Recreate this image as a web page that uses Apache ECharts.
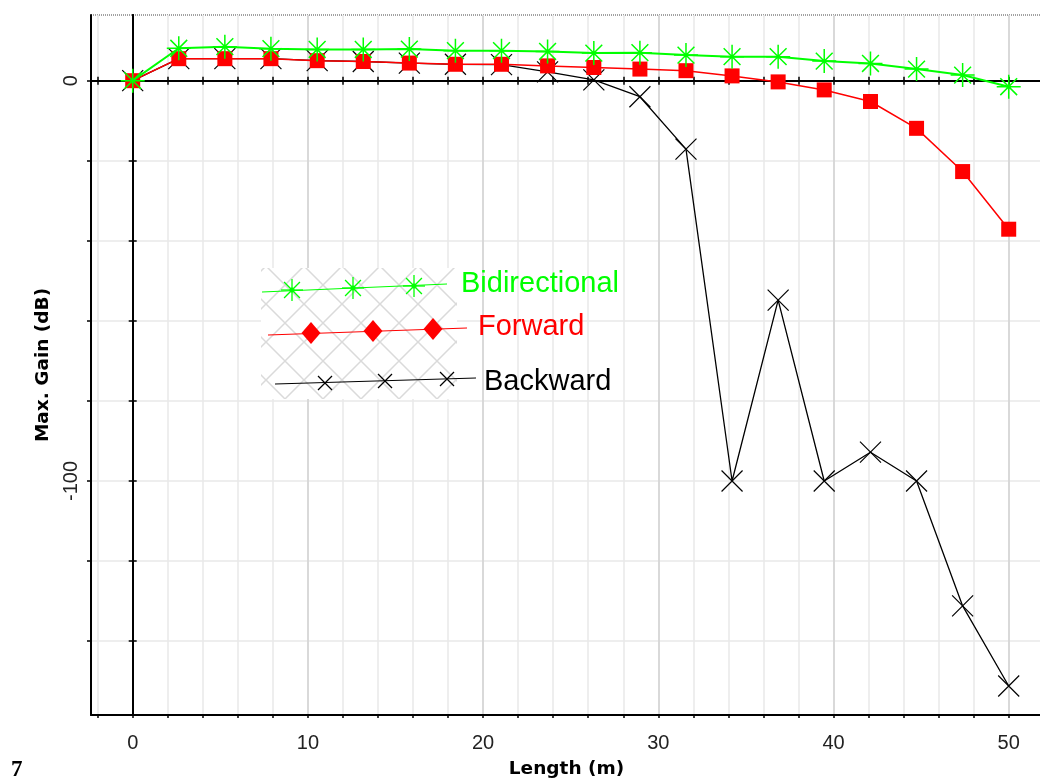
<!DOCTYPE html>
<html>
<head>
<meta charset="utf-8">
<script src="https://cdn.jsdelivr.net/npm/echarts@6/dist/echarts.min.js"></script>
<style>
html,body{margin:0;padding:0;background:#fff;}
#chart{width:1040px;height:780px;}
</style>
</head>
<body>
<div id="chart"></div>
<script>
// ---- data ----
const lengthM = [0, 2.63, 5.26, 7.89, 10.53, 13.16, 15.79, 18.42, 21.05, 23.68, 26.32, 28.95, 31.58, 34.21, 36.84, 39.47, 42.11, 44.74, 47.37, 50];
const bidirectional = [0, 8.1, 8.5, 8.0, 7.8, 7.8, 7.9, 7.5, 7.5, 7.3, 6.9, 7.0, 6.4, 6.0, 6.0, 4.9, 4.3, 2.9, 1.4, -1.5];
const forward = [0, 5.5, 5.5, 5.5, 5.0, 4.8, 4.4, 4.1, 4.1, 3.7, 3.3, 2.9, 2.5, 1.2, -0.3, -2.3, -5.2, -11.9, -22.7, -37.1];
const backward = [0, 5.5, 5.5, 5.5, 5.0, 4.8, 4.4, 4.1, 4.0, 2.2, 0.2, -4.0, -17.1, -100, -54.8, -100, -92.8, -100, -131.2, -151.2];
const seriesNames = ['Bidirectional', 'Forward', 'Backward'];
const xTickValues = [-2, 0, 2, 4, 6, 8, 10, 12, 14, 16, 18, 20, 22, 24, 26, 28, 30, 32, 34, 36, 38, 40, 42, 44, 46, 48, 50];
const xDecadeValues = [0, 10, 20, 30, 40, 50];
const xLabelValues = [0, 10, 20, 30, 40, 50];
const yTickValues = [0, -20, -40, -60, -80, -100, -120, -140];
const yLabelValues = [0, -100];
const xTitle = 'Length (m)';
const yTitle = 'Max. Gain (dB)';
const figLabel = '7';

function pairs(ys) { return lengthM.map((x, i) => [x, ys[i]]); }

const X_MIN = -2.38, X_MAX = 51.9, Y_MIN = -158.45, Y_MAX = 16.41;
const GREEN = '#00ff00', RED = '#ff0000', BLACK = '#000000';
const STAR = 'path://M0,-10L0,10M-10,0L10,0M-7,-7L7,7M-7,7L7,-7';
const CROSS = 'path://M0,0L10,10M10,0L0,10';

// hatch pattern for legend background
const pc = document.createElement('canvas');
pc.width = 38; pc.height = 38;
const pctx = pc.getContext('2d');
pctx.fillStyle = '#ffffff'; pctx.fillRect(0, 0, 38, 38);
pctx.strokeStyle = '#dadada'; pctx.lineWidth = 1.5;
pctx.beginPath();
pctx.moveTo(0, 0); pctx.lineTo(38, 38);
pctx.moveTo(38, 0); pctx.lineTo(0, 38);
pctx.stroke();

function starEls(cx, cy, r, color) {
  const d = r * 0.72;
  const segs = [[0, -r, 0, r], [-r, 0, r, 0], [-d, -d, d, d], [-d, d, d, -d]];
  return segs.map(s => ({ type: 'line', shape: { x1: cx + s[0], y1: cy + s[1], x2: cx + s[2], y2: cy + s[3] }, style: { stroke: color, lineWidth: 1.3 }, z: 102 }));
}
function crossEls(cx, cy, r, color) {
  return [[-r, -r, r, r], [-r, r, r, -r]].map(s => ({ type: 'line', shape: { x1: cx + s[0], y1: cy + s[1], x2: cx + s[2], y2: cy + s[3] }, style: { stroke: color, lineWidth: 1.2 }, z: 102 }));
}
function diamondEl(cx, cy, w, h, color) {
  return { type: 'polygon', shape: { points: [[cx, cy - h / 2], [cx + w / 2, cy], [cx, cy + h / 2], [cx - w / 2, cy]] }, style: { fill: color }, z: 102 };
}
const legendFont = '29px "Liberation Sans", Arial, sans-serif';
const legendEls = [
  { type: 'rect', shape: { x: 261, y: 268, width: 196, height: 131 }, style: { fill: { image: pc, repeat: 'repeat' } }, z: 100 },
  // Bidirectional
  { type: 'line', shape: { x1: 262, y1: 292, x2: 447, y2: 284 }, style: { stroke: GREEN, lineWidth: 1.2 }, z: 101 },
  ...starEls(292, 290, 11, GREEN), ...starEls(353, 288, 11, GREEN), ...starEls(414, 286, 11, GREEN),
  { type: 'circle', shape: { cx: 292, cy: 290, r: 2.5 }, style: { fill: GREEN }, z: 103 },
  { type: 'circle', shape: { cx: 353, cy: 288, r: 2.5 }, style: { fill: GREEN }, z: 103 },
  { type: 'circle', shape: { cx: 414, cy: 286, r: 2.5 }, style: { fill: GREEN }, z: 103 },
  { type: 'text', x: 461, y: 284, style: { text: seriesNames[0], font: legendFont, fill: GREEN, textVerticalAlign: 'middle' }, z: 103 },
  // Forward
  { type: 'line', shape: { x1: 268, y1: 335, x2: 467, y2: 328 }, style: { stroke: RED, lineWidth: 1.2 }, z: 101 },
  diamondEl(311, 333, 19, 22, RED), diamondEl(373, 331, 19, 22, RED), diamondEl(433, 329, 19, 22, RED),
  { type: 'text', x: 478, y: 327, style: { text: seriesNames[1], font: legendFont, fill: RED, textVerticalAlign: 'middle' }, z: 103 },
  // Backward
  { type: 'line', shape: { x1: 275, y1: 384, x2: 476, y2: 378 }, style: { stroke: BLACK, lineWidth: 1.1 }, z: 101 },
  ...crossEls(325, 383, 7, BLACK), ...crossEls(385, 381, 7, BLACK), ...crossEls(447, 379, 7, BLACK),
  { type: 'text', x: 484, y: 382, style: { text: seriesNames[2], font: legendFont, fill: BLACK, textVerticalAlign: 'middle' }, z: 103 },
  // figure number
  { type: 'text', x: 11, y: 759, style: { text: figLabel, font: 'bold 23px "Liberation Serif", serif', fill: '#000' }, z: 103 }
];

const tickFont = { color: '#222', fontSize: 20, fontFamily: '"Liberation Sans", Arial, sans-serif' };
const titleFont = { color: '#000', fontSize: 18.5, fontWeight: 'bold', fontFamily: '"DejaVu Sans", sans-serif' };

const chart = echarts.init(document.getElementById('chart'), null, { renderer: 'canvas' });
chart.setOption({
  animation: false,
  backgroundColor: '#ffffff',
  grid: { left: 91, right: -2, top: 15, bottom: 65, outerBoundsMode: 'none', containLabel: false, show: true, borderColor: '#444', borderWidth: 1, borderType: [1, 1], backgroundColor: 'transparent' },
  xAxis: [
    {
      type: 'value', min: X_MIN, max: X_MAX, position: 'bottom',
      axisLine: { onZero: false, lineStyle: { color: '#000', width: 2 } },
      axisTick: { customValues: xTickValues, length: 3, lineStyle: { color: '#000', width: 1.5 } },
      axisLabel: Object.assign({ customValues: xLabelValues, margin: 18 }, tickFont),
      splitLine: { show: true, lineStyle: { color: '#e8e8e8', width: 1.5 } },
      name: xTitle, nameLocation: 'middle', nameGap: 45, nameTextStyle: titleFont
    },
    {
      type: 'value', min: X_MIN, max: X_MAX, position: 'bottom',
      axisLine: { show: false, onZero: false },
      axisTick: { show: false, customValues: xDecadeValues },
      axisLabel: { show: false },
      splitLine: { show: true, lineStyle: { color: '#d2d2d2', width: 1.5 } }
    },
    {
      type: 'value', min: X_MIN, max: X_MAX, position: 'top',
      axisLine: { onZero: true, onZeroAxisIndex: 0, lineStyle: { color: '#000', width: 2 } },
      axisTick: { customValues: xTickValues, length: 4, lineStyle: { color: '#000', width: 1.5 } },
      axisLabel: { show: false }, splitLine: { show: false }
    },
    {
      type: 'value', min: X_MIN, max: X_MAX, position: 'top',
      axisLine: { onZero: true, onZeroAxisIndex: 0, lineStyle: { color: '#000', width: 2 } },
      axisTick: { inside: true, customValues: xTickValues, length: 4, lineStyle: { color: '#000', width: 1.5 } },
      axisLabel: { show: false }, splitLine: { show: false }
    }
  ],
  yAxis: [
    {
      type: 'value', min: Y_MIN, max: Y_MAX, position: 'left',
      axisLine: { onZero: false, lineStyle: { color: '#000', width: 2 } },
      axisTick: { customValues: yTickValues, length: 4, lineStyle: { color: '#000', width: 1.5 } },
      axisLabel: Object.assign({ customValues: yLabelValues, rotate: 90, margin: 10 }, tickFont),
      splitLine: { show: true, lineStyle: { color: '#e8e8e8', width: 1.5 } },
      name: yTitle, nameLocation: 'middle', nameGap: 35, nameRotate: 90, nameTextStyle: titleFont
    },
    {
      type: 'value', min: Y_MIN, max: Y_MAX, position: 'right',
      axisLine: { onZero: true, onZeroAxisIndex: 0, lineStyle: { color: '#000', width: 2 } },
      axisTick: { customValues: yTickValues, length: 4, lineStyle: { color: '#000', width: 1.5 } },
      axisLabel: { show: false }, splitLine: { show: false }
    },
    {
      type: 'value', min: Y_MIN, max: Y_MAX, position: 'right',
      axisLine: { onZero: true, onZeroAxisIndex: 0, lineStyle: { color: '#000', width: 2 } },
      axisTick: { inside: true, customValues: yTickValues, length: 4, lineStyle: { color: '#000', width: 1.5 } },
      axisLabel: { show: false }, splitLine: { show: false }
    }
  ],
  series: [
    {
      name: seriesNames[2], type: 'line', xAxisIndex: 0, yAxisIndex: 0, data: pairs(backward), z: 3,
      symbol: CROSS, symbolSize: 21,
      lineStyle: { color: BLACK, width: 1.3 },
      itemStyle: { color: BLACK, borderColor: BLACK, borderWidth: 1.2 }
    },
    {
      name: seriesNames[1], type: 'line', xAxisIndex: 0, yAxisIndex: 0, data: pairs(forward), z: 4,
      symbol: 'rect', symbolSize: 15,
      lineStyle: { color: RED, width: 1.5 },
      itemStyle: { color: RED, borderWidth: 0 }
    },
    {
      name: seriesNames[0], type: 'line', xAxisIndex: 0, yAxisIndex: 0, data: pairs(bidirectional), z: 5,
      symbol: STAR, symbolSize: 24,
      lineStyle: { color: GREEN, width: 2 },
      itemStyle: { color: GREEN, borderColor: GREEN, borderWidth: 1.5 }
    }
  ],
  graphic: { elements: legendEls }
});
</script>
</body>
</html>
